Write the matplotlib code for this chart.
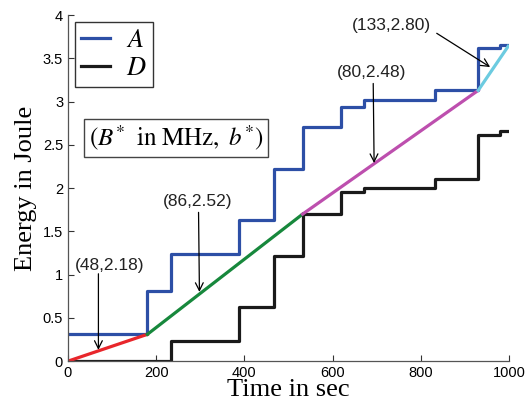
import numpy as np
import matplotlib
matplotlib.use('Agg')
import matplotlib.pyplot as plt
from matplotlib.ticker import FuncFormatter

plt.rcParams['mathtext.fontset'] = 'stix'
plt.rcParams['font.family'] = 'Liberation Sans'

# 数据：A 与 D 的阶梯能量曲线
a_time = [0, 180, 233, 388, 466, 532, 618, 672, 832, 930, 980, 998]
a_energy = [0.31, 0.81, 1.24, 1.63, 2.22, 2.71, 2.94, 3.02, 3.13, 3.62, 3.66, 3.66]
d_time = [0, 233, 388, 466, 532, 619, 672, 832, 930, 980, 998]
d_energy = [0, 0.23, 0.63, 1.21, 1.70, 1.95, 2.00, 2.11, 2.62, 2.66, 2.66]

# 分段直线
seg_time = [0, 180, 532, 930, 998]
seg_energy = [0, 0.31, 1.70, 3.13, 3.64]
seg_colors = ['#e8262b', '#17883c', '#bd4fae', '#6ccbe0']

# 标注
ann_labels = ['(48,2.18)', '(86,2.52)', '(80,2.48)', '(133,2.80)']
ann_texts = [(95, 1.11), (295, 1.85), (688, 3.34), (734, 3.88)]
ann_tails = [(69, 1.01), (296, 1.72), (692, 3.21), (836, 3.79)]
ann_heads = [(69, 0.13), (298, 0.80), (694, 2.29), (957, 3.40)]

fig = plt.figure(figsize=(5.27, 4.09), dpi=100)
ax = fig.add_axes([0.129, 0.117, 0.837, 0.846])

lw = 2.3
ax.plot(a_time, a_energy, drawstyle='steps-post', color='#2d4fa6', lw=lw, label='$A$')
ax.plot(d_time, d_energy, drawstyle='steps-post', color='#1a1a1a', lw=lw, label='$D$')
for i in range(len(seg_colors)):
    ax.plot(seg_time[i:i + 2], seg_energy[i:i + 2], color=seg_colors[i], lw=lw)

for lab, tp, tail, head in zip(ann_labels, ann_texts, ann_tails, ann_heads):
    ax.text(tp[0], tp[1], lab, fontsize=12.5, color='#222222', ha='center', va='center')
    ax.annotate('', xy=head, xytext=tail,
                arrowprops=dict(arrowstyle='->', color='black', lw=0.9,
                                shrinkA=0, shrinkB=0, mutation_scale=14))

ax.text(245, 2.58, r'$(B^{*}\;\ \mathrm{in\ MHz},\ b^{*})$', fontsize=18,
        ha='center', va='center',
        bbox=dict(boxstyle='square,pad=0.18', fc='white', ec='#444444', lw=1))

ax.set_xlim(0, 1000)
ax.set_ylim(0, 4)
ax.set_xticks(np.arange(0, 1001, 200))
ax.set_yticks(np.arange(0, 4.01, 0.5))
ax.yaxis.set_major_formatter(FuncFormatter(lambda v, p: '%g' % v))
ax.tick_params(direction='in', labelsize=10.5, length=4, width=0.8, colors='#333333')
for t in ax.get_xticklabels() + ax.get_yticklabels():
    t.set_color('black')
ax.spines['top'].set_visible(False)
ax.spines['right'].set_visible(False)
for s in ['left', 'bottom']:
    ax.spines[s].set_color('#555555')
    ax.spines[s].set_linewidth(0.9)

ax.set_xlabel('Time in sec', fontsize=19, family='Liberation Serif', labelpad=-1)
ax.set_ylabel('Energy in Joule', fontsize=19, family='Liberation Serif', labelpad=4)

leg = ax.legend(loc='upper left', fontsize=19, frameon=True, fancybox=False,
                handlelength=1.1, borderaxespad=0.25, borderpad=0.25,
                labelspacing=0.15, handletextpad=0.6)
leg.get_frame().set_edgecolor('black')
leg.get_frame().set_linewidth(1)

fig.savefig('out.png', dpi=100)
